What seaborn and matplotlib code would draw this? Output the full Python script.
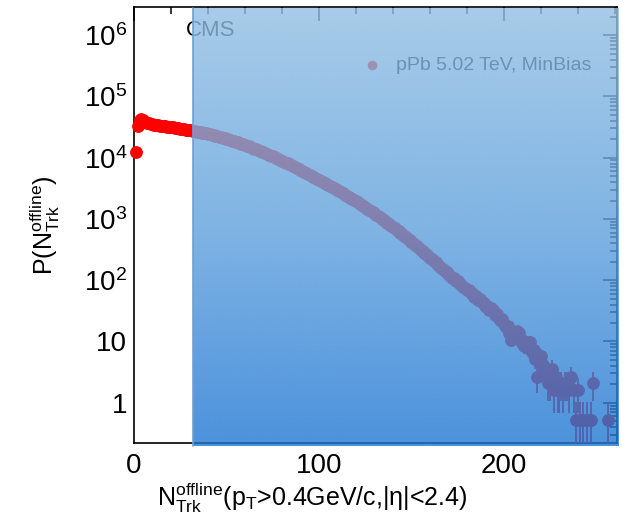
import numpy as np
import pandas as pd
import matplotlib
matplotlib.use('Agg')
import matplotlib.pyplot as plt
from matplotlib.ticker import MultipleLocator, LogLocator, FixedLocator, FixedFormatter, NullFormatter
import seaborn as sns

# multiplicity distribution, pPb 5.02 TeV MinBias
n_trk = list(range(1, 237)) + [238, 239, 240, 241, 243, 245, 247, 248, 256]
prob = [
    12300, 33100, 41700, 42700, 40700, 38900, 37200, 36300, 35500, 35100,
    34700, 34000, 33700, 33400, 33100, 32800, 32500, 32200, 31900, 31600,
    31300, 30900, 30500, 30200, 29900, 29500, 29200, 28800, 28500, 28200,
    27800, 27400, 27000, 26700, 26300, 25900, 25600, 25200, 24900, 24500,
    24100, 23700, 23200, 22800, 22400, 22000, 21600, 21200, 20800, 20400,
    19950, 19500, 19050, 18600, 18200, 17800, 17400, 17000, 16600, 16200,
    15800, 15300, 14900, 14500, 14100, 13700, 13400, 13000, 12600, 12300,
    11900, 11500, 11200, 10800, 10500, 10100, 9820, 9510, 9200, 8910,
    8610, 8320, 8040, 7760, 7500, 7240, 7000, 6760, 6530, 6310,
    6080, 5860, 5650, 5450, 5250, 5060, 4880, 4700, 4530, 4370,
    4200, 4040, 3880, 3730, 3590, 3450, 3320, 3190, 3070, 2950,
    2830, 2720, 2610, 2500, 2400, 2300, 2210, 2120, 2030, 1950,
    1860, 1780, 1700, 1620, 1550, 1480, 1410, 1350, 1290, 1230,
    1170, 1110, 1060, 1005, 955, 908, 863, 820, 780, 741,
    701, 664, 628, 594, 562, 532, 504, 476, 451, 427,
    402, 378, 356, 336, 316, 298, 281, 264, 249, 234,
    220, 207, 195, 183, 172, 161, 152, 143, 134, 126,
    119, 110, 108, 98, 96, 87, 85, 77, 76, 69,
    68, 61, 62, 54, 55, 48, 49, 44, 43, 38,
    38, 33, 35, 33, 27, 28, 25, 22, 23, 19,
    17, 18, 14, 10.4, 13, 12, 15, 14, 11, 9.4,
    8.3, 9.9, 7.8, 9.9, 6.8, 7.3, 5.2, 2.6, 4.7, 5.7,
    4.2, 3.6, 3.1, 2.1, 2.1, 3.6, 1.6, 2.6, 1.6, 1.6,
    2.1, 1.6, 2.1, 2.1, 1.6, 2.6,
    1.6, 0.52, 1.6, 0.52, 0.52, 0.52, 0.52, 2.1, 0.52,
]
one_count = 0.52  # value of a single entry

ytick_values = [1, 10, 1e2, 1e3, 1e4, 1e5, 1e6]
ytick_labels = ['1', '10', '10$^{2}$', '10$^{3}$', '10$^{4}$', '10$^{5}$', '10$^{6}$']

df = pd.DataFrame({'ntrk': n_trk, 'p': prob})
df['err'] = np.sqrt(df['p'] * one_count)

sns.set_style('white')
plt.rcParams['font.family'] = ['Liberation Sans', 'DejaVu Sans']
plt.rcParams['mathtext.fontset'] = 'custom'
plt.rcParams['mathtext.rm'] = 'Liberation Sans'
plt.rcParams['mathtext.it'] = 'Liberation Sans:italic'
plt.rcParams['mathtext.bf'] = 'Liberation Sans:bold'
plt.rcParams['text.color'] = 'black'
plt.rcParams['axes.labelcolor'] = 'black'
plt.rcParams['xtick.color'] = 'black'
plt.rcParams['ytick.color'] = 'black'

fig = plt.figure(figsize=(6.27, 5.28), dpi=100)
ax = fig.add_axes([0.2137, 0.161, 0.770, 0.826])
ax.set_yscale('log')

ax.errorbar(df['ntrk'], df['p'], yerr=df['err'], fmt='none', ecolor='red', elinewidth=1.3, zorder=3)
sns.scatterplot(data=df, x='ntrk', y='p', ax=ax, color='red', s=85, linewidth=0,
                label='pPb 5.02 TeV, MinBias', zorder=4, clip_on=False)

ax.text(28, 1.2e6, 'CMS', fontsize=16, color='black', ha='left', va='center')

leg = ax.legend(loc='upper left', bbox_to_anchor=(0.425, 0.918), frameon=False, fontsize=14,
                handletextpad=0.2, markerscale=0.75, borderpad=0.2)

xmin, xmax = 0, 261
ymin, ymax = 0.22, 2.9e6
ax.set_xlim(xmin, xmax)
ax.set_ylim(ymin, ymax)

# blue gradient box laid over the plot
alpha = 0.8
stops = np.array([[168, 204, 233], [128, 180, 228], [76, 146, 220]], dtype=float)
rows = 256
t = np.linspace(0, 1, rows)
seen = np.column_stack([np.interp(t, [0, 0.5, 1], stops[:, k]) for k in range(3)])
base = np.clip((seen - (1 - alpha) * 255) / alpha, 0, 255) / 255
rgba = np.ones((rows, 1, 4))
rgba[:, 0, :3] = base
rgba[:, 0, 3] = alpha
box_x0 = (32 - xmin) / (xmax - xmin)
ax.imshow(rgba, extent=[box_x0, 1.004, -0.006, 0.997], transform=ax.transAxes,
          aspect='auto', zorder=10, interpolation='bilinear', clip_on=False)
ax.plot([box_x0, box_x0], [-0.006, 0.997], transform=ax.transAxes, color='#6f9fd0',
        lw=1.2, zorder=11, clip_on=False)
ax.set_xlim(xmin, xmax)
ax.set_ylim(ymin, ymax)

ax.xaxis.set_major_locator(MultipleLocator(100))
ax.xaxis.set_minor_locator(MultipleLocator(20))
ax.yaxis.set_major_locator(FixedLocator(ytick_values))
ax.yaxis.set_major_formatter(FixedFormatter(ytick_labels))
ax.yaxis.set_minor_locator(LogLocator(base=10, subs=np.arange(2, 10), numticks=20))
ax.yaxis.set_minor_formatter(NullFormatter())
ax.tick_params(which='both', direction='in', top=True, right=True, width=1.1,
               color='black', labelcolor='black')
ax.tick_params(which='major', length=10, labelsize=20)
ax.tick_params(which='minor', length=5)
ax.tick_params(axis='x', which='major', pad=7)
ax.tick_params(axis='y', which='major', pad=5)
for sp in ax.spines.values():
    sp.set_linewidth(1.2)
    sp.set_color('black')

ax.set_xlabel(r'N$_{\mathrm{Trk}}^{\mathrm{offline}}$(p$_{\mathrm{T}}$>0.4GeV/c,|η|<2.4)', fontsize=18)
ax.xaxis.set_label_coords(0.37, -0.088)
ax.set_ylabel(r'P(N$_{\mathrm{Trk}}^{\mathrm{offline}}$)', fontsize=18)
ax.yaxis.set_label_coords(-0.15, 0.5)

fig.savefig('out.png', dpi=100)
